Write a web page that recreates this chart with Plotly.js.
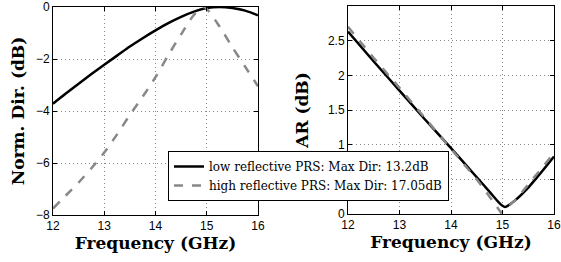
<!DOCTYPE html>
<html><head><meta charset="utf-8">
<script src="https://cdn.plot.ly/plotly-3.0.1.min.js"></script>
<style>html,body{margin:0;padding:0;background:#fff}#c{width:561px;height:262px}</style>
</head><body><div id="c"></div>
<script>
const freq = [12,12.25,12.5,12.75,13,13.25,13.5,13.75,14,14.25,14.5,14.75,15,15.25,15.5,15.75,16];
const dirLow = [-3.72,-3.33,-2.95,-2.58,-2.22,-1.87,-1.52,-1.2,-0.9,-0.62,-0.38,-0.18,-0.04,0,-0.04,-0.14,-0.32];
const freqHigh = [12,12.25,12.5,12.75,13,13.25,13.5,13.75,14,14.25,14.5,14.75,14.95,15.25,15.5,15.75,16];
const dirHigh = [-7.75,-7.25,-6.75,-6.2,-5.6,-4.9,-4.15,-3.45,-2.7,-1.85,-1.05,-0.3,0,-0.75,-1.55,-2.3,-3.05];
const freqAR = [12,12.5,13,13.5,14,14.5,14.75,14.95,15.05,15.25,15.5,15.75,16];
const arLow = [2.63,2.2,1.78,1.36,0.95,0.53,0.32,0.15,0.1,0.2,0.38,0.6,0.83];
const freqARh = [12,12.5,13,13.5,14,14.5,14.75,14.97,15.25,15.5,15.75,16];
const arHigh = [2.7,2.25,1.82,1.38,0.95,0.5,0.25,0.02,0.2,0.42,0.65,0.88];
const names = ['low reflective PRS: Max Dir: 13.2dB','high reflective PRS: Max Dir: 17.05dB'];

const blk = {color:'#000', width:2.5};
const gry = {color:'#888', width:2.5, dash:'dash'};
const traces = [
 {x:freq, y:dirLow, mode:'lines', line:Object.assign({shape:'spline'},blk), name:names[0], xaxis:'x', yaxis:'y'},
 {x:freqHigh, y:dirHigh, mode:'lines', line:Object.assign({shape:'spline',smoothing:0.6},gry), name:names[1], xaxis:'x', yaxis:'y'},
 {x:freqAR, y:arLow, mode:'lines', line:Object.assign({shape:'spline',smoothing:0.6},blk), showlegend:false, xaxis:'x2', yaxis:'y2'},
 {x:freqARh, y:arHigh, mode:'lines', line:gry, showlegend:false, xaxis:'x2', yaxis:'y2'}
];
const tickF = {family:'Liberation Sans, Arial, sans-serif', size:12, color:'#000'};
const titleF = {family:'DejaVu Serif, serif', size:17, color:'#000', weight:'bold'};
function ax(extra){
  return Object.assign({showline:true, mirror:'ticks', linecolor:'#000', linewidth:1,
    ticks:'inside', ticklen:4, tickcolor:'#000', showgrid:true, gridcolor:'#888', griddash:'1px,3px', gridwidth:1,
    zeroline:false, tickfont:tickF}, extra);
}
const layout = {
  width:561, height:262, margin:{l:0,r:0,t:0,b:0}, paper_bgcolor:'#fff', plot_bgcolor:'#fff',
  showlegend:true,
  xaxis: ax({domain:[53/561,258/561], range:[12,16], dtick:1, anchor:'y',
    title:{text:'Frequency (GHz)', font:titleF, standoff:2}}),
  yaxis: ax({domain:[47/262,255/262], range:[-8,0], dtick:2, anchor:'x',
    title:{text:'Norm. Dir. (dB)', font:titleF, standoff:6}}),
  xaxis2: ax({domain:[348/561,554/561], range:[12,16], dtick:1, anchor:'y2',
    title:{text:'Frequency (GHz)', font:titleF, standoff:2}}),
  yaxis2: ax({domain:[48/262,256/262], range:[0,3], dtick:0.5, anchor:'x2',
    title:{text:'AR (dB)', font:titleF, standoff:14}}),
  legend:{x:168/561, y:(262-151)/262, xanchor:'left', yanchor:'top', bgcolor:'#fff',
    bordercolor:'#000', borderwidth:1, font:{family:'DejaVu Serif, serif', size:12, color:'#000'},
    tracegroupgap:0, itemwidth:30}
};
Plotly.newPlot('c', traces, layout, {staticPlot:true});
</script></body></html>
